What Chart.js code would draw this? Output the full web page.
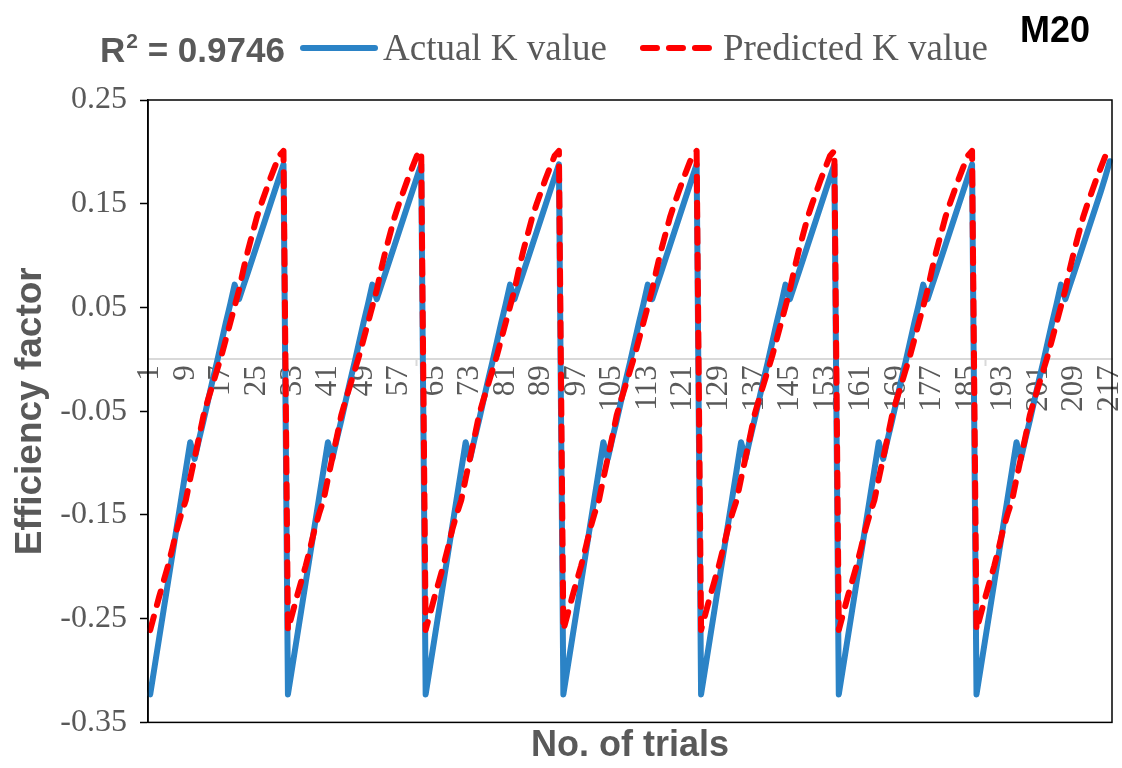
<!DOCTYPE html>
<html lang="en">
<head>
  <meta charset="UTF-8">
  <title>M20 - Actual vs Predicted K value</title>
  <script src="https://cdn.jsdelivr.net/npm/chart.js"></script>
  <style>
    html, body { margin: 0; padding: 0; background: #fff; }
    canvas { display: block; }
  </style>
</head>
<body>
  <canvas id="grafica" width="1122" height="768"></canvas>

  <script>
    const modelName = 'M20';
    const r2Value = '0.9746';
    const seriesNames = ['Actual K value', 'Predicted K value'];
    const trials = Array.from({ length: 217 }, (_, i) => String(i + 1));
    const yTicks = [-0.35, -0.25, -0.15, -0.05, 0.05, 0.15, 0.25];

    // one row per block of 31 trials
    const actualK = [
      -0.323, -0.296, -0.269, -0.242, -0.215, -0.188, -0.161, -0.134, -0.107, -0.080, -0.096, -0.077, -0.059, -0.040, -0.021, -0.003, 0.016, 0.035, 0.053, 0.072, 0.058, 0.071, 0.084, 0.097, 0.110, 0.123, 0.136, 0.149, 0.162, 0.175, 0.188,
      -0.323, -0.296, -0.269, -0.242, -0.215, -0.188, -0.161, -0.134, -0.107, -0.080, -0.096, -0.077, -0.059, -0.040, -0.021, -0.003, 0.016, 0.035, 0.053, 0.072, 0.058, 0.071, 0.084, 0.097, 0.110, 0.123, 0.136, 0.149, 0.162, 0.175, 0.188,
      -0.323, -0.296, -0.269, -0.242, -0.215, -0.188, -0.161, -0.134, -0.107, -0.080, -0.096, -0.077, -0.059, -0.040, -0.021, -0.003, 0.016, 0.035, 0.053, 0.072, 0.058, 0.071, 0.084, 0.097, 0.110, 0.123, 0.136, 0.149, 0.162, 0.175, 0.188,
      -0.323, -0.296, -0.269, -0.242, -0.215, -0.188, -0.161, -0.134, -0.107, -0.080, -0.096, -0.077, -0.059, -0.040, -0.021, -0.003, 0.016, 0.035, 0.053, 0.072, 0.058, 0.071, 0.084, 0.097, 0.110, 0.123, 0.136, 0.149, 0.162, 0.175, 0.188,
      -0.323, -0.296, -0.269, -0.242, -0.215, -0.188, -0.161, -0.134, -0.107, -0.080, -0.096, -0.077, -0.059, -0.040, -0.021, -0.003, 0.016, 0.035, 0.053, 0.072, 0.058, 0.071, 0.084, 0.097, 0.110, 0.123, 0.136, 0.149, 0.162, 0.175, 0.188,
      -0.323, -0.296, -0.269, -0.242, -0.215, -0.188, -0.161, -0.134, -0.107, -0.080, -0.096, -0.077, -0.059, -0.040, -0.021, -0.003, 0.016, 0.035, 0.053, 0.072, 0.058, 0.071, 0.084, 0.097, 0.110, 0.123, 0.136, 0.149, 0.162, 0.175, 0.188,
      -0.323, -0.296, -0.269, -0.242, -0.215, -0.188, -0.161, -0.134, -0.107, -0.080, -0.096, -0.077, -0.059, -0.040, -0.021, -0.003, 0.016, 0.035, 0.053, 0.072, 0.058, 0.071, 0.084, 0.097, 0.110, 0.123, 0.136, 0.149, 0.162, 0.176, 0.191
    ];

    const predictedK = [
      -0.261, -0.245, -0.229, -0.214, -0.199, -0.182, -0.164, -0.149, -0.136, -0.115, -0.095, -0.075, -0.054, -0.039, -0.025, -0.011, 0.003, 0.019, 0.035, 0.051, 0.067, 0.087, 0.105, 0.121, 0.137, 0.150, 0.162, 0.174, 0.185, 0.196, 0.201,
      -0.261, -0.245, -0.229, -0.214, -0.199, -0.182, -0.164, -0.149, -0.136, -0.115, -0.095, -0.075, -0.054, -0.039, -0.025, -0.011, 0.003, 0.019, 0.035, 0.051, 0.067, 0.087, 0.105, 0.121, 0.137, 0.150, 0.162, 0.174, 0.185, 0.196, 0.201,
      -0.261, -0.245, -0.229, -0.214, -0.199, -0.182, -0.164, -0.149, -0.136, -0.115, -0.095, -0.075, -0.054, -0.039, -0.025, -0.011, 0.003, 0.019, 0.035, 0.051, 0.067, 0.087, 0.105, 0.121, 0.137, 0.150, 0.162, 0.174, 0.185, 0.196, 0.201,
      -0.261, -0.245, -0.229, -0.214, -0.199, -0.182, -0.164, -0.149, -0.136, -0.115, -0.095, -0.075, -0.054, -0.039, -0.025, -0.011, 0.003, 0.019, 0.035, 0.051, 0.067, 0.087, 0.105, 0.121, 0.137, 0.150, 0.162, 0.174, 0.185, 0.196, 0.201,
      -0.261, -0.245, -0.229, -0.214, -0.199, -0.182, -0.164, -0.149, -0.136, -0.115, -0.095, -0.075, -0.054, -0.039, -0.025, -0.011, 0.003, 0.019, 0.035, 0.051, 0.067, 0.087, 0.105, 0.121, 0.137, 0.150, 0.162, 0.174, 0.185, 0.196, 0.201,
      -0.261, -0.245, -0.229, -0.214, -0.199, -0.182, -0.164, -0.149, -0.136, -0.115, -0.095, -0.075, -0.054, -0.039, -0.025, -0.011, 0.003, 0.019, 0.035, 0.051, 0.067, 0.087, 0.105, 0.121, 0.137, 0.150, 0.162, 0.174, 0.185, 0.196, 0.201,
      -0.261, -0.245, -0.229, -0.214, -0.199, -0.182, -0.164, -0.149, -0.136, -0.115, -0.095, -0.075, -0.054, -0.039, -0.025, -0.011, 0.003, 0.019, 0.035, 0.051, 0.067, 0.087, 0.105, 0.121, 0.137, 0.150, 0.162, 0.174, 0.185, 0.196, 0.202
    ];

    const grey = '#595959';
    const sans = '"Liberation Sans", Arial, sans-serif';
    const serif = '"Liberation Serif", "Times New Roman", serif';

    // frame, R², legend and model tag
    const chartTexts = {
      id: 'chartTexts',
      afterDraw(chart) {
        const { ctx, chartArea: a } = chart;
        ctx.save();
        ctx.strokeStyle = '#000';
        ctx.lineWidth = 1.5;
        ctx.strokeRect(a.left, a.top, a.right - a.left, a.bottom - a.top);

        ctx.fillStyle = grey;
        ctx.textAlign = 'left';
        ctx.textBaseline = 'alphabetic';
        let x = 100;
        ctx.font = 'bold 35px ' + sans;
        ctx.fillText('R', x, 62);
        x += ctx.measureText('R').width + 1;
        ctx.font = 'bold 21px ' + sans;
        ctx.fillText('2', x, 48);
        x += ctx.measureText('2').width;
        ctx.font = 'bold 35px ' + sans;
        ctx.fillText(' = ' + r2Value, x, 62);

        x = 300;
        ctx.font = '37px ' + serif;
        chart.data.datasets.forEach(ds => {
          ctx.beginPath();
          ctx.strokeStyle = ds.borderColor;
          ctx.lineWidth = ds.borderWidth;
          ctx.lineCap = 'round';
          ctx.setLineDash(ds.borderDash || []);
          ctx.moveTo(x + 3, 48);
          ctx.lineTo(x + 75, 48);
          ctx.stroke();
          ctx.setLineDash([]);
          ctx.fillText(ds.label, x + 83, 60);
          x += 83 + ctx.measureText(ds.label).width + 33;
        });

        ctx.fillStyle = '#000';
        ctx.font = 'bold 36px ' + sans;
        ctx.fillText(modelName, 1020, 42);
        ctx.restore();
      }
    };

    const ctx = document.getElementById('grafica').getContext('2d');
    new Chart(ctx, {
      type: 'line',
      data: {
        labels: trials,
        datasets: [
          {
            label: seriesNames[0],
            data: actualK,
            borderColor: '#2b83c6',
            borderWidth: 6,
            borderCapStyle: 'round',
            borderJoinStyle: 'round',
            pointRadius: 0,
            tension: 0,
            fill: false,
            order: 2
          },
          {
            label: seriesNames[1],
            data: predictedK,
            borderColor: '#ff0000',
            borderWidth: 6,
            borderDash: [14, 12],
            borderCapStyle: 'round',
            borderJoinStyle: 'round',
            pointRadius: 0,
            tension: 0,
            fill: false,
            order: 1
          }
        ]
      },
      options: {
        responsive: false,
        animation: false,
        devicePixelRatio: 1,
        layout: { padding: { top: 100, right: 10, bottom: 0, left: 5 } },
        plugins: {
          legend: { display: false },
          tooltip: { enabled: false }
        },
        scales: {
          x: {
            type: 'category',
            position: { y: 0 },
            offset: true,
            grid: {
              offset: true,
              drawOnChartArea: false,
              tickLength: 6,
              tickWidth: 2,
              tickColor: c => (c.index % 16 === 8 ? '#d9d9d9' : 'rgba(0,0,0,0)')
            },
            border: { color: '#d9d9d9', width: 2 },
            ticks: {
              autoSkip: false,
              maxRotation: 90,
              minRotation: 90,
              padding: 0,
              color: grey,
              font: { family: serif, size: 31, lineHeight: 1 },
              callback: function (val, i) { return i % 8 === 0 ? this.getLabelForValue(val) : null; }
            },
            afterFit: s => { s.paddingLeft = 0; s.paddingRight = 0; }
          },
          x2: {
            type: 'category',
            labels: trials,
            position: 'bottom',
            grid: { display: false, drawTicks: false },
            border: { display: false },
            ticks: { display: false },
            title: {
              display: true,
              text: 'No. of trials',
              color: grey,
              font: { family: sans, size: 36, weight: 'bold', lineHeight: 1.1 },
              padding: { top: 4, bottom: 2 }
            }
          },
          y: {
            min: yTicks[0],
            max: yTicks[yTicks.length - 1],
            afterBuildTicks: s => { s.ticks = yTicks.map(v => ({ value: v })); },
            afterFit: s => { s.width = 143; },
            grid: {
              drawOnChartArea: false,
              tickLength: 8,
              tickWidth: 1.5,
              tickColor: '#000'
            },
            border: { color: '#000', width: 1.5 },
            ticks: {
              padding: 13,
              color: grey,
              font: { family: serif, size: 32 },
              callback: v => v.toFixed(2)
            },
            title: {
              display: true,
              text: 'Efficiency factor',
              color: grey,
              font: { family: sans, size: 37, weight: 'bold' }
            }
          }
        }
      },
      plugins: [chartTexts]
    });
  </script>
</body>
</html>
